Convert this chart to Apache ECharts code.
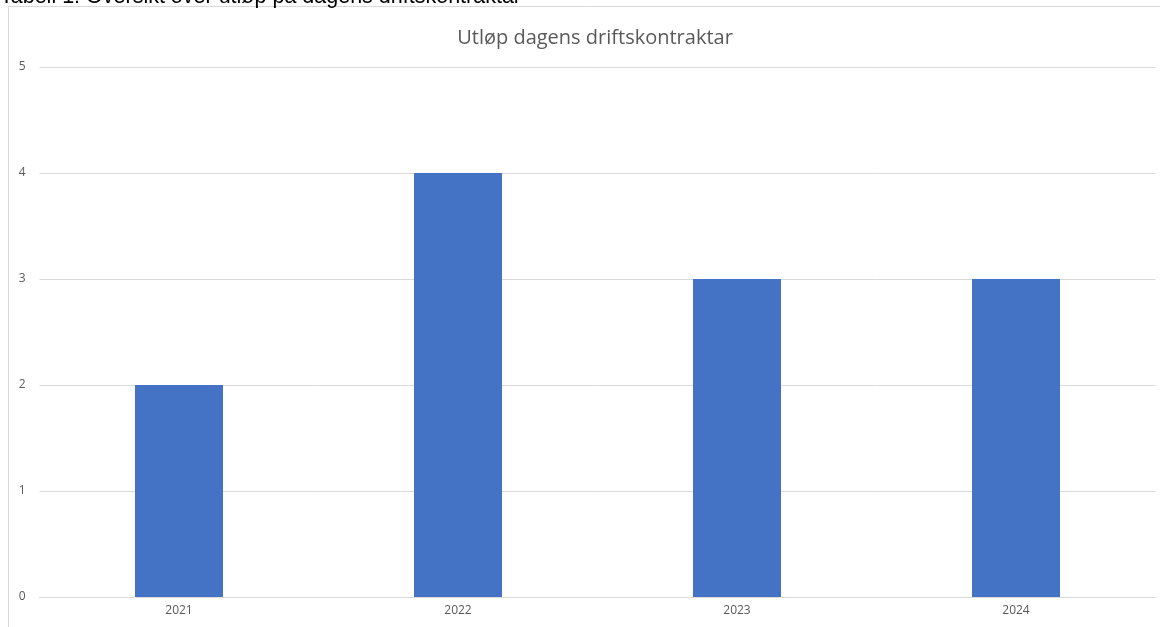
<!DOCTYPE html>
<html><head><meta charset="utf-8">
<script src="https://cdn.jsdelivr.net/npm/echarts@6/dist/echarts.min.js"></script>
<style>html,body{margin:0;padding:0;background:#fff}#c{width:1160px;height:627px}</style>
</head><body><div id="c"></div>
<script>
const categories = ['2021', '2022', '2023', '2024'];
const values = [2, 4, 3, 3];
const yTicks = [0, 1, 2, 3, 4, 5];
const chart = echarts.init(document.getElementById('c'));
chart.setOption({
  animation: false,
  backgroundColor: '#fff',
  title: {
    text: 'Utløp dagens driftskontraktar',
    left: 590, top: 23, textAlign: 'center',
    textStyle: { fontFamily: 'Open Sans', fontSize: 20, fontWeight: 'normal', color: '#595959' }
  },
  graphic: [
    { type: 'rect', shape: { x: 8.5, y: 6.5, width: 1200, height: 700 }, style: { fill: 'none', stroke: '#d9d9d9', lineWidth: 1 }, z: -1 },
    { type: 'text', x: 0, y: -3.1, style: { text: 'Tabell 1: Oversikt over utløp på dagens driftskontraktar', font: '21.5px "Liberation Sans"', fill: '#000', verticalAlign: 'middle' } }
  ],
  grid: { left: 39.5, right: 4.5, top: 67, bottom: 30 },
  xAxis: {
    type: 'category', data: categories,
    axisLine: { lineStyle: { color: '#d9d9d9' } },
    axisTick: { show: false },
    axisLabel: { color: '#595959', fontSize: 12, fontFamily: 'Open Sans', margin: 8 }
  },
  yAxis: {
    type: 'value', min: yTicks[0], max: yTicks[yTicks.length - 1], interval: 1,
    axisLine: { show: false }, axisTick: { show: false },
    splitLine: { lineStyle: { color: '#d9d9d9' } },
    axisLabel: { color: '#595959', fontSize: 12, fontFamily: 'Open Sans', margin: 14 }
  },
  series: [{
    type: 'bar', data: values, barWidth: 88,
    itemStyle: { color: '#4472C4' }
  }]
});
</script></body></html>
